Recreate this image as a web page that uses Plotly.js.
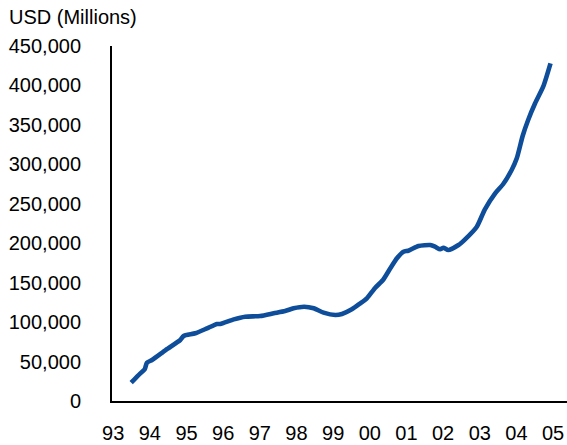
<!DOCTYPE html>
<html>
<head>
<meta charset="utf-8">
<script src="https://cdn.plot.ly/plotly-3.0.1.min.js"></script>
<style>html,body{margin:0;padding:0;background:#fff;}#chart{width:567px;height:445px;}</style>
</head>
<body>
<div id="chart"></div>
<script>
// Time in decimal years
const years = [1993.49,1993.74,1993.86,1993.92,1994.06,1994.43,1994.83,1994.92,1995.24,1995.56,1995.83,1995.92,1996.29,1996.60,1997.01,1997.38,1997.69,1997.92,1998.21,1998.47,1998.74,1999.06,1999.24,1999.51,1999.74,1999.92,2000.15,2000.36,2000.56,2000.74,2000.92,2001.05,2001.33,2001.65,2001.78,2001.92,2002.01,2002.14,2002.42,2002.60,2002.92,2003.14,2003.42,2003.64,2003.87,2004.01,2004.17,2004.32,2004.51,2004.73,2004.93];
// USD millions
const values = [23200,35100,40200,48600,52000,64600,77300,82400,85800,92100,97600,97600,103500,106900,107700,111200,114100,117500,119500,117500,112000,109000,110300,116200,123800,130200,143600,153400,168200,180900,189300,190500,196500,197700,195600,192300,194300,191400,197700,205000,221000,243000,263300,275100,292800,307600,335900,356200,377400,398400,428100];
const tickYears = [1993,1994,1995,1996,1997,1998,1999,2000,2001,2002,2003,2004,2005];
const tickLabels = ['93','94','95','96','97','98','99','00','01','02','03','04','05'];
const yTicks = [0,50000,100000,150000,200000,250000,300000,350000,400000,450000];
const titleText = 'USD (Millions)';

const font = {family: '"Liberation Sans", Arial, sans-serif', size: 20, color: '#000'};

Plotly.newPlot('chart', [{
  x: years, y: values, type: 'scatter', mode: 'lines',
  line: {color: '#0E4D9A', width: 4.6, shape: 'spline', smoothing: 0.6},
  hoverinfo: 'none'
}], {
  width: 567, height: 445,
  margin: {l: 112, r: 0, t: 46, b: 44, pad: 0},
  paper_bgcolor: '#fff', plot_bgcolor: '#fff',
  showlegend: false,
  font: font,
  title: {text: titleText, font: font, x: 9/567, xanchor: 'left', xref: 'container', y: 1 - 17/445, yanchor: 'middle', yref: 'container'},
  xaxis: {
    range: [1992.967, 2005.38], tickvals: tickYears, ticktext: tickLabels,
    showgrid: false, zeroline: false, showline: true, linecolor: '#000', linewidth: 2,
    ticks: '', ticklabelstandoff: 13, tickfont: font, fixedrange: true
  },
  yaxis: {
    range: [0, 450000], tickvals: yTicks, tickformat: ',',
    showgrid: false, zeroline: false, showline: true, linecolor: '#000', linewidth: 2,
    ticks: '', ticklabelstandoff: 25, tickfont: font, fixedrange: true
  }
}, {staticPlot: true});
</script>
</body>
</html>
